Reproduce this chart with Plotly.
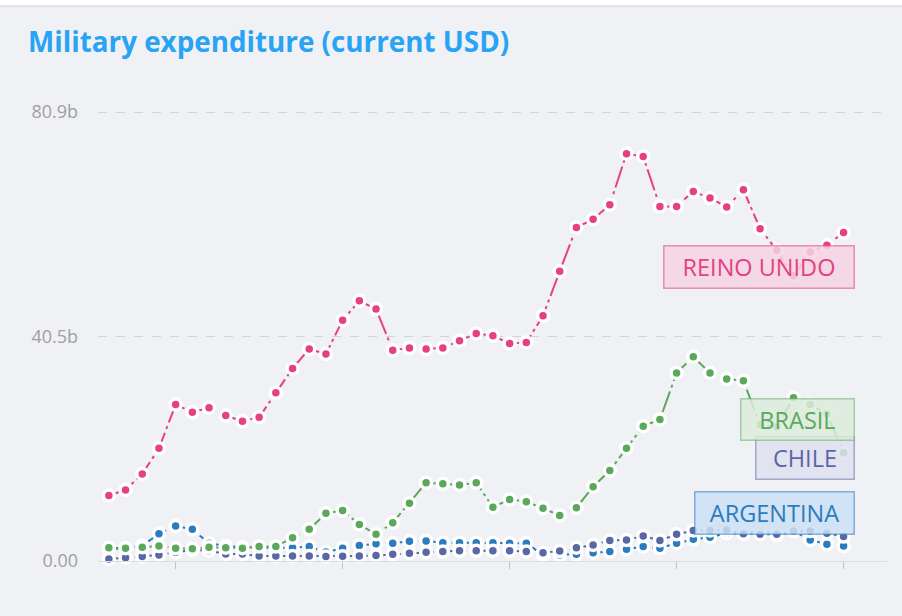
import plotly.graph_objects as go

years = list(range(1976, 2021))

reino_unido = [11.8, 12.8, 15.7, 20.3, 28.2, 26.8, 27.6, 26.2, 25.2, 25.9,
               30.3, 34.7, 38.2, 37.3, 43.4, 46.9, 45.4, 38.0, 38.4, 38.2,
               38.4, 39.7, 41.0, 40.6, 39.2, 39.4, 44.2, 52.2, 60.1, 61.6,
               64.2, 73.4, 72.9, 63.9, 63.9, 66.6, 65.4, 63.8, 66.9, 59.9,
               56.0, 51.4, 55.7, 56.9, 59.2]
brasil = [2.4, 2.3, 2.5, 2.7, 2.3, 2.2, 2.5, 2.4, 2.3, 2.6,
          2.6, 4.2, 5.7, 8.6, 9.1, 6.6, 4.8, 6.9, 10.4, 14.1,
          13.9, 13.7, 14.1, 9.7, 11.1, 10.7, 9.5, 8.2, 9.6, 13.4,
          16.3, 20.3, 24.3, 25.5, 33.9, 36.8, 33.9, 32.8, 32.5, 24.6,
          24.2, 29.4, 28.2, 26.5, 19.5]
argentina = [2.1, 2.3, 2.8, 4.9, 6.3, 5.7, 3.2, 2.7, 2.5, 2.4,
             2.4, 2.4, 2.6, 1.6, 2.3, 2.8, 3.1, 3.2, 3.55, 3.6,
             3.3, 3.3, 3.3, 3.3, 3.2, 3.2, 1.1, 1.1, 1.2, 1.5,
             1.7, 2.1, 2.6, 2.3, 3.2, 3.9, 4.3, 5.0, 4.9, 5.5,
             4.6, 5.4, 3.8, 3.0, 2.7]
chile = [0.36, 0.6, 0.8, 1.1, 1.56, 2.0, 1.86, 1.26, 1.26, 0.9,
         0.9, 0.9, 0.9, 0.8, 0.85, 0.9, 1.0, 1.2, 1.4, 1.56,
         1.7, 1.86, 1.86, 1.86, 1.86, 1.7, 1.5, 1.8, 2.4, 2.9,
         3.7, 3.8, 4.5, 3.7, 4.8, 5.5, 5.5, 5.6, 4.9, 4.8,
         4.8, 5.4, 5.4, 5.0, 4.4]

y_max = 80.9
y_top = 82.0
y_tickvals = [0, y_max / 2, y_max]
y_ticktext = ["0.00", "40.5b", "80.9b"]
x_tickvals = [1980, 1990, 2000, 2010, 2020]

series = [
    ("ARGENTINA", argentina, "#2b7cbf", "rgba(203,224,243,0.85)", "rgba(43,124,191,0.55)"),
    ("CHILE", chile, "#5a67a6", "rgba(222,225,239,0.85)", "rgba(90,103,166,0.5)"),
    ("BRASIL", brasil, "#5ba85a", "rgba(218,236,219,0.85)", "rgba(91,168,90,0.5)"),
    ("REINO UNIDO", reino_unido, "#e6407e", "rgba(245,212,227,0.85)", "rgba(230,64,126,0.55)"),
]

fig = go.Figure()
for name, vals, col, _, _ in series:
    fig.add_trace(go.Scatter(
        x=years, y=vals, mode="lines+markers", name=name,
        line=dict(color=col, width=2, dash="22px,4px,3px,4px"),
        marker=dict(size=11, color=col, line=dict(color="white", width=3.5)),
        showlegend=False, cliponaxis=False,
    ))

# label boxes (pixel geometry -> paper coords)
L, R, B = 98, 887, 561
T = B - 449 * y_top / y_max
W, H = R - L, B - T
def px(x):
    return (x - L) / W
def py(y):
    return (B - y) / H

boxes = {
    "REINO UNIDO": (663, 855, 245, 289),
    "BRASIL": (740, 855, 398, 441),
    "CHILE": (755, 855, 436, 480),
    "ARGENTINA": (694, 855, 491, 535),
}
for name, vals, col, fill, border in series:
    x0, x1, y0, y1 = boxes[name]
    fig.add_annotation(
        xref="paper", yref="paper", x=px(x1), y=py((y0 + y1) / 2),
        xanchor="right", yanchor="middle", text=name, showarrow=False,
        font=dict(family="Open Sans", size=23.5, color=col),
        bgcolor=fill, bordercolor=border, borderwidth=1.5, borderpad=3,
        width=(x1 - x0) - 9, height=(y1 - y0) - 9, align="center",
    )

# top card edge
fig.add_shape(type="rect", xref="paper", yref="paper",
              x0=px(-10), x1=px(912), y0=py(5), y1=py(-5),
              fillcolor="white", line=dict(width=0), layer="above")
fig.add_shape(type="line", xref="paper", yref="paper",
              x0=px(-10), x1=px(912), y0=py(6), y1=py(6),
              line=dict(color="#e2e3e7", width=2), layer="above")

fig.update_layout(
    width=902, height=616,
    margin=dict(l=L, r=902 - R, t=T, b=616 - B, pad=0),
    paper_bgcolor="#f0f1f5", plot_bgcolor="#f0f1f5",
    title=dict(text="<b>Military expenditure (current USD)</b>",
               x=28 / 902, xanchor="left", xref="container",
               y=1 - 42 / 616, yanchor="middle", yref="container",
               font=dict(family="Open Sans", size=27.8, color="#29a3f3")),
    xaxis=dict(range=[1975.35, 2022.6], showgrid=False, zeroline=False,
               showline=True, linecolor="#dcdde1", linewidth=1,
               tickvals=x_tickvals, ticks="outside", ticklen=7,
               tickcolor="#c4c4c4", tickwidth=1, showticklabels=False),
    yaxis=dict(range=[0, y_top], tickvals=y_tickvals, ticktext=y_ticktext,
               showgrid=True, gridcolor="#d3d4d8", griddash="dash", gridwidth=1.3,
               zeroline=False, showline=False, ticks="",
               tickfont=dict(family="Open Sans", size=18, color="#a0a0a0"),
               ticklabelstandoff=19),
)

fig.write_html("out.html", config={"displayModeBar": False},
               post_script="document.body.style.margin='0';document.body.style.overflow='hidden';")
